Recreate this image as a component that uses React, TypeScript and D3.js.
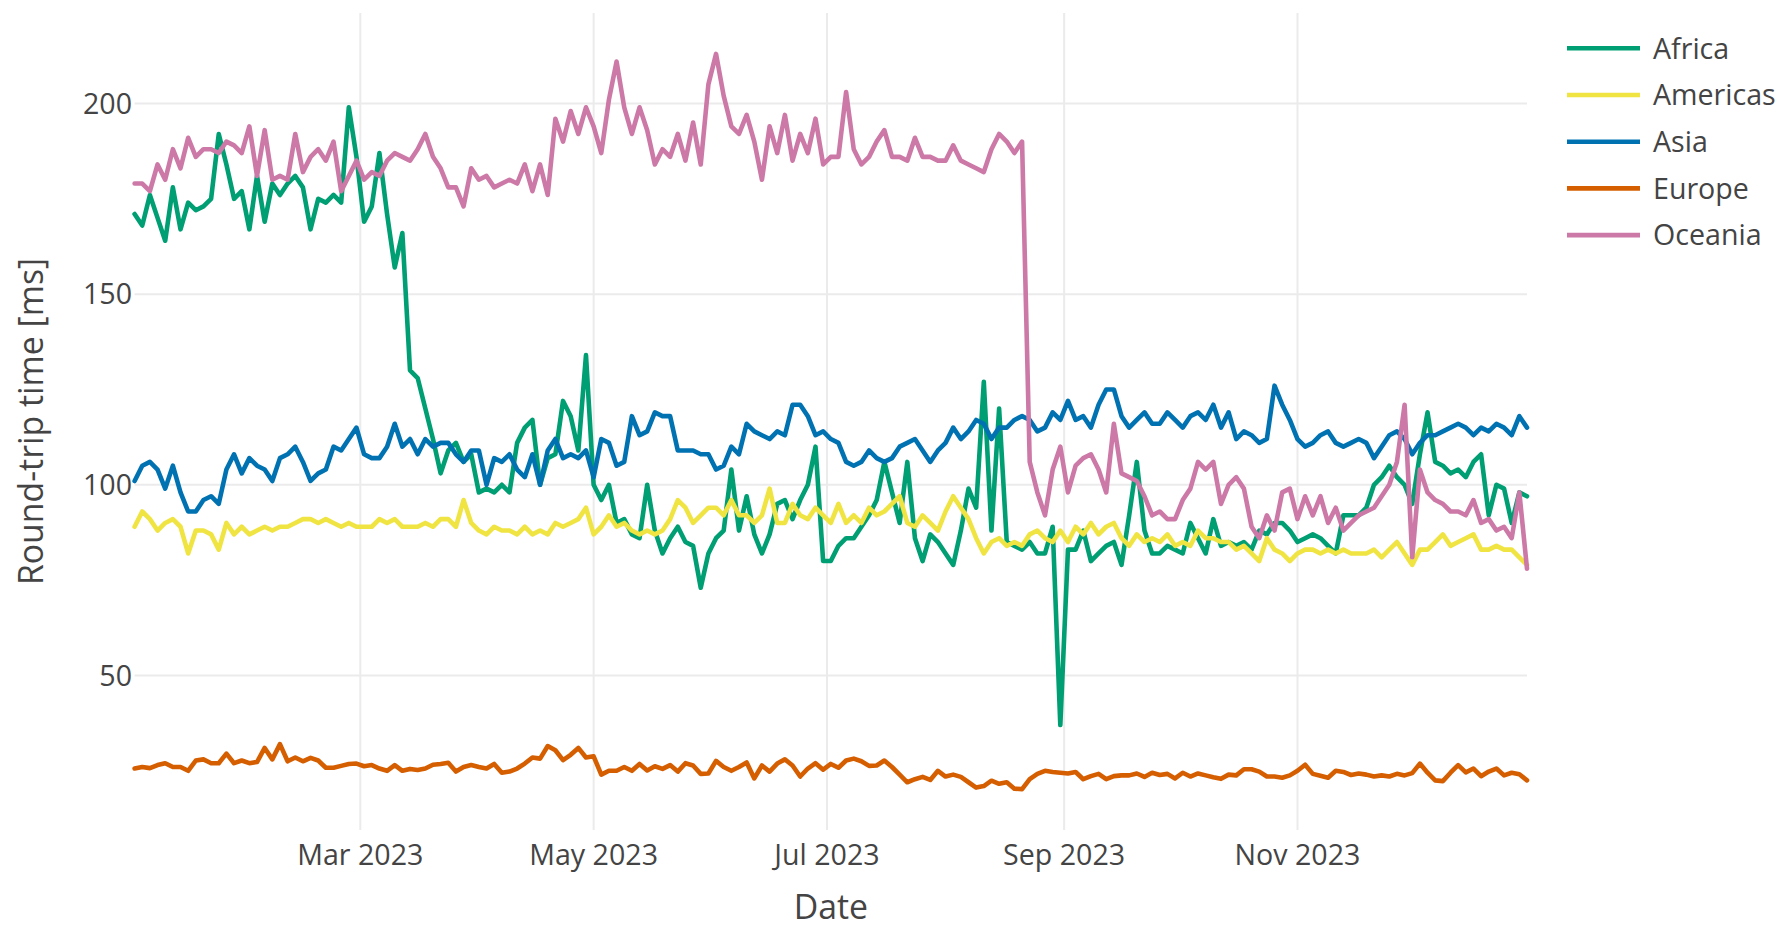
import React from 'react';
import * as d3 from 'd3';

// Sampled every second day from 2023-01-01 to 2023-12-31 (183 samples)
const regions = ['Africa', 'Americas', 'Asia', 'Europe', 'Oceania'];
const regionColors = ['#009e73', '#f0e442', '#0072b2', '#d55e00', '#cc79a7'];

const africa = [
  171, 168, 176, 170, 164, 178, 167, 174, 172, 173, 175, 192, 184, 175, 177, 167, 181, 169, 179, 176,
  179, 181, 178, 167, 175, 174, 176, 174, 199, 186, 169, 173, 187, 171, 157, 166, 130, 128, 120, 112,
  103, 109, 111, 106, 108, 98,
  99, 98, 100, 98, 111, 115, 117, 100, 107, 108, 122, 118, 109, 134, 100, 96, 100, 90, 91, 87,
  86, 100, 88, 82, 86, 89, 85, 84, 73, 82, 86, 88, 104, 88, 97, 87, 82, 87, 95, 96,
  91, 96, 100, 110, 80,
  80, 84, 86, 86, 89, 92, 96, 106, 98, 90, 106, 86, 80, 87, 85, 82, 79, 88, 99, 94,
  127, 88, 120, 85, 84, 83, 85, 82, 82, 89, 37, 83, 83, 88, 80, 82, 84, 85, 79, 92,
  106, 88, 82, 82, 84,
  83, 82, 90, 86, 82, 91, 84, 85, 84, 85, 83, 88, 87, 90, 90, 88, 85, 86, 87, 86,
  84, 82, 92, 92, 92, 94, 100, 102, 105, 102, 100, 95, 108, 119, 106, 105, 103, 104, 102, 106,
  108, 92, 100, 99, 90, 98, 97,
];

const americas = [
  89, 93, 91, 88, 90, 91, 89, 82, 88, 88, 87, 83, 90, 87, 89, 87, 88, 89, 88, 89,
  89, 90, 91, 91, 90, 91, 90, 89, 90, 89, 89, 89, 91, 90, 91, 89, 89, 89, 90, 89,
  91, 91, 89, 96, 90, 88,
  87, 89, 88, 88, 87, 89, 87, 88, 87, 90, 89, 90, 91, 94, 87, 89, 92, 89, 90, 88,
  87, 88, 87, 88, 91, 96, 94, 90, 92, 94, 94, 92, 96, 92, 92, 90, 92, 99, 90, 90,
  95, 92, 91, 94, 92,
  90, 95, 90, 92, 90, 94, 92, 93, 95, 97, 90, 89, 92, 90, 88, 93, 97, 94, 91, 86,
  82, 85, 86, 84, 85, 84, 87, 88, 86, 85, 88, 85, 89, 87, 90, 87, 89, 90, 86, 84,
  87, 85, 86, 85, 87,
  84, 85, 84, 88, 86, 86, 85, 85, 83, 84, 82, 80, 86, 83, 82, 80, 82, 83, 83, 82,
  83, 82, 83, 82, 82, 82, 83, 81, 83, 85, 82, 79, 83, 83, 85, 87, 84, 85, 86, 87,
  83, 83, 84, 83, 83, 81, 79,
];

const asia = [
  101, 105, 106, 104, 99, 105, 98, 93, 93, 96, 97, 95, 104, 108, 103, 107, 105, 104, 101, 107,
  108, 110, 106, 101, 103, 104, 110, 109, 112, 115, 108, 107, 107, 110, 116, 110, 112, 108, 112, 110,
  111, 111, 108, 106, 109, 109,
  100, 107, 106, 108, 104, 102, 108, 100, 109, 112, 107, 108, 107, 109, 102, 112, 111, 105, 106, 118,
  113, 114, 119, 118, 118, 109, 109, 109, 108, 108, 104, 105, 110, 108, 116, 114, 113, 112, 114, 113,
  121, 121, 118, 113, 114,
  112, 111, 106, 105, 106, 109, 107, 106, 107, 110, 111, 112, 109, 106, 109, 111, 115, 112, 114, 117,
  116, 112, 115, 115, 117, 118, 117, 114, 115, 119, 117, 122, 117, 118, 115, 121, 125, 125, 118, 115,
  117, 119, 116, 116, 119,
  117, 115, 118, 119, 117, 121, 115, 119, 112, 114, 113, 111, 112, 126, 121, 117, 112, 110, 111, 113,
  114, 111, 110, 111, 112, 111, 107, 110, 113, 114, 112, 108, 111, 113, 113, 114, 115, 116, 115, 113,
  115, 114, 116, 115, 113, 118, 115,
];

const europe = [
  25.6, 26, 25.7, 26.5, 27, 26, 26, 25, 27.7, 28, 27, 27, 29.5, 27, 27.7, 27, 27.3, 31, 28, 32,
  27.5, 28.5, 27.5, 28.4, 27.7, 25.8, 25.8, 26.3, 26.8, 26.9, 26.2, 26.5, 25.6, 25, 26.5, 25, 25.5, 25.2, 25.6, 26.6,
  26.8, 27.1, 24.8, 26, 26.5, 26, 25.6, 26.8, 24.5, 24.8, 25.6, 26.9, 28.5, 28.2, 31.5, 30.4, 27.8, 29.2, 31, 28.5,
  28.8,
  24, 25, 25, 26, 25, 26.8, 25.1, 26.2, 25.5, 26.5, 24.8, 27, 26.4, 24.2, 24.3, 27.6, 26, 25, 26, 27.2,
  23, 26.4, 24.8, 26.9, 28, 26.4, 23.5, 25.6, 27, 25.3, 26.8, 25.8, 27.7, 28.2, 27.5, 26.3, 26.4, 27.7, 26, 24,
  22, 22.8, 23.4, 22.6, 25, 23.5, 24, 23.4, 22, 20.6, 21, 22.4, 21.6, 22, 20.3, 20.2, 22.8, 24.2, 25, 24.7,
  24.5,
  24.3, 24.7, 22.8, 23.6, 24.2, 22.8, 23.6, 23.8, 23.8, 24.3, 23.4, 24.5, 23.9, 24.2, 23, 24.5, 23.5, 24.3, 23.8, 23.3,
  22.9, 24, 23.8, 25.4, 25.4, 24.8, 23.5, 23.5, 23.2, 23.8, 25, 26.6, 24.2, 23.7, 23.2, 25, 24.7, 23.9, 24.3, 24,
  23.5, 23.8, 23.5, 24.2, 23.8, 24.4, 26.9, 24.5, 22.5, 22.3, 24.5, 26.5, 24.6, 25.6, 23.6, 24.8, 25.6, 23.8, 24.5, 24.1,
  22.5,
];

const oceania = [
  179, 179, 177, 184, 180, 188, 183, 191, 186, 188, 188, 187, 190, 189, 187, 194, 181, 193, 180, 181,
  180, 192, 182, 186, 188, 185, 190, 177, 181, 185, 180, 182, 181, 185, 187, 186, 185, 188, 192, 186,
  183, 178, 178, 173, 183, 180,
  181, 178, 179, 180, 179, 184, 177, 184, 176, 196, 190, 198, 192, 199, 194, 187, 201, 211, 199, 192,
  199, 193, 184, 188, 186, 192, 185, 195, 184, 205, 213, 202, 194, 192, 197, 190, 180, 194, 187, 197,
  185, 192, 187, 196, 184,
  186, 186, 203, 188, 184, 186, 190, 193, 186, 186, 185, 191, 186, 186, 185, 185, 189, 185, 184, 183,
  182, 188, 192, 190, 187, 190, 106, 98, 92, 104, 110, 98, 105, 107, 108, 104, 98, 116, 103, 102,
  101, 97, 92, 93, 91,
  91, 96, 99, 106, 104, 106, 95, 100, 102, 99, 89, 86, 92, 88, 98, 99, 91, 97, 92, 97,
  90, 94, 88, 90, 92, 93, 94, 97, 100, 106, 121, 81, 104, 98, 96, 95, 93, 93, 92, 96,
  90, 91, 88, 89, 86, 98, 78,
];

const seriesValues = [africa, americas, asia, europe, oceania];
const yTickValues = [50, 100, 150, 200];
const xTickDates = ['2023-03-01', '2023-05-01', '2023-07-01', '2023-09-01', '2023-11-01'];
const xTitle = 'Date';
const yTitle = 'Round-trip time [ms]';

const startDate = new Date(2023, 0, 1);
const dates = africa.map((_, i) => d3.timeDay.offset(startDate, 2 * i));

export default function App() {
  const W = 1787;
  const H = 928;
  const left = 134.6;
  const right = 1527;
  const top = 13;
  const bottom = 830;
  const font = '"Open Sans", "Noto Sans", sans-serif';
  const textColor = '#444';
  const gridColor = '#ebebeb';
  const tickSize = 28.6;
  const titleSize = 33.8;
  const legendSize = 28.6;

  const x = d3.scaleTime().domain([dates[0], dates[dates.length - 1]]).range([left, right]);
  const all = seriesValues.flat();
  const lo = d3.min(all) as number;
  const hi = d3.max(all) as number;
  const pad = (hi - lo) * 0.0556;
  const y = d3.scaleLinear().domain([lo - pad, hi + pad]).range([bottom, top]);

  const line = d3
    .line<number>()
    .x((_, i) => x(dates[i]))
    .y((d) => y(d));

  const parse = d3.timeParse('%Y-%m-%d');
  const fmt = d3.timeFormat('%b %Y');
  const xTicks = xTickDates.map((s) => parse(s) as Date);

  const legendX = 1567;
  const legendY0 = 48.3;
  const legendStep = 46.7;

  return (
    <svg
      width={W}
      height={H}
      style={{ position: 'absolute', left: 0, top: 0, background: '#fff' }}
      fontFamily={font}
    >
      <rect x={0} y={0} width={W} height={H} fill="#fff" />
      {/* grid */}
      <g>
        {xTicks.map((d, i) => (
          <line key={'gx' + i} x1={x(d)} x2={x(d)} y1={top} y2={bottom} stroke={gridColor} strokeWidth={2} />
        ))}
        {yTickValues.map((v, i) => (
          <line key={'gy' + i} x1={left} x2={right} y1={y(v)} y2={y(v)} stroke={gridColor} strokeWidth={2} />
        ))}
      </g>
      {/* lines */}
      <g fill="none" strokeWidth={4.6} strokeLinejoin="round" strokeLinecap="round">
        {seriesValues.map((vals, i) => (
          <path key={regions[i]} d={line(vals) || ''} stroke={regionColors[i]} />
        ))}
      </g>
      {/* y tick labels */}
      <g fontSize={tickSize} fill={textColor} textAnchor="end">
        {yTickValues.map((v) => (
          <text key={'yt' + v} x={132} y={y(v)} dy="0.36em">
            {v}
          </text>
        ))}
      </g>
      {/* x tick labels */}
      <g fontSize={tickSize} fill={textColor} textAnchor="middle">
        {xTicks.map((d, i) => (
          <text key={'xt' + i} x={x(d)} y={865}>
            {fmt(d)}
          </text>
        ))}
      </g>
      {/* axis titles */}
      <text x={(left + right) / 2} y={919} fontSize={titleSize} fill={textColor} textAnchor="middle">
        {xTitle}
      </text>
      <text
        transform={`translate(43, ${(top + bottom) / 2}) rotate(-90)`}
        fontSize={titleSize}
        fill={textColor}
        textAnchor="middle"
      >
        {yTitle}
      </text>
      {/* legend */}
      <g>
        {regions.map((r, i) => (
          <g key={'lg' + r} transform={`translate(0, ${legendY0 + i * legendStep})`}>
            <line x1={legendX} x2={legendX + 73} y1={0} y2={0} stroke={regionColors[i]} strokeWidth={4.6} />
            <text x={legendX + 86} y={0} dy="0.36em" fontSize={legendSize} fill={textColor}>
              {r}
            </text>
          </g>
        ))}
      </g>
    </svg>
  );
}
